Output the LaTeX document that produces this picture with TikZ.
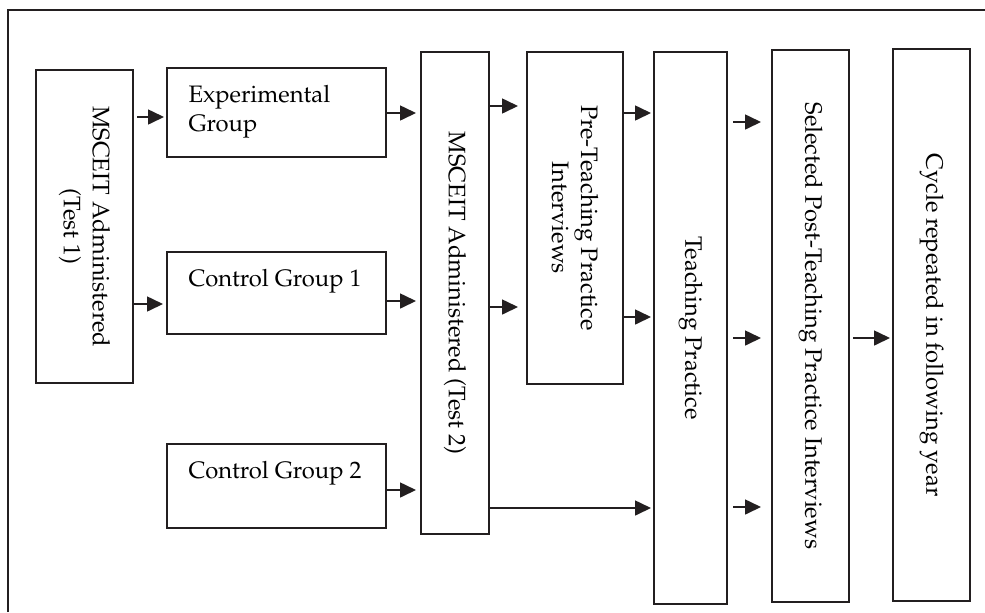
\documentclass[tikz,border=0pt]{standalone}
\usepackage[T1]{fontenc}
\usepackage{mathpazo}
\usetikzlibrary{arrows.meta}
\definecolor{linecolor}{RGB}{35,31,32}

\begin{document}
\begin{tikzpicture}[
    x=0.5pt, y=-0.5pt,
    font=\fontsize{11.9}{14.5}\selectfont,
    stagebox/.style={draw=linecolor, line width=1pt, rotate=-90, align=center, inner sep=2pt},
    grpbox/.style={draw=linecolor, line width=1pt, anchor=north west, minimum width=109.5pt, inner xsep=10.5pt, inner ysep=8.5pt},
    arrow/.style={-{Triangle[length=8pt,width=7.5pt]}, line width=0.8pt, linecolor, shorten >=1pt}
]
    \useasboundingbox (0,0) rectangle (985,612);

    % Frame
    \draw[linecolor, line width=1pt] (8,612) -- (8,10) -- (985,10);

    % Groups
    \node[grpbox] (exp) at (166,67) {\parbox[t][27.5pt][t]{88pt}{Experimental\\Group}};
    \node[grpbox] (cg1) at (166,251) {\parbox[t][24pt][t]{88pt}{Control Group 1}};
    \node[grpbox] (cg2) at (166,443) {\parbox[t][25pt][t]{88pt}{Control Group 2}};

    % Stages (rotated: north is the right side, south the left side)
    \node[stagebox, minimum width=156.5pt, minimum height=48.5pt] (test1) at (84.5,226.5) {MSCEIT Administered\\(Test 1)};
    \node[stagebox, minimum width=241pt, minimum height=34pt] (test2) at (455,293) {MSCEIT Administered (Test 2)};
    \node[stagebox, minimum width=166pt, minimum height=48pt] (pre) at (575,218) {Pre-Teaching Practice\\Interviews};
    \node[stagebox, minimum width=276pt, minimum height=36.5pt] (tp) at (690.5,328) {Teaching Practice};
    \node[stagebox, minimum width=276pt, minimum height=38.5pt] (post) at (810.5,326) {Selected Post-Teaching Practice Interviews};
    \node[stagebox, minimum width=276pt, minimum height=38.5pt] (cycle) at (931.5,325) {Cycle repeated in following year};

    % Arrows
    \draw[arrow, shorten <=1.5pt] (test1.north |- 0,117) -- (exp.west |- 0,117);
    \draw[arrow, shorten >=1.5pt] (test1.north |- 0,304) -- (cg1.west |- 0,304);
    \draw[arrow, shorten >=2pt] (exp.east |- 0,113) -- (test2.south |- 0,113);
    \draw[arrow, shorten >=2pt] (cg1.east |- 0,301) -- (test2.south |- 0,301);
    \draw[arrow, shorten >=2pt] (cg2.east |- 0,490) -- (test2.south |- 0,490);
    \draw[arrow, shorten >=4pt] (test2.north |- 0,106) -- (pre.south |- 0,106);
    \draw[arrow, shorten >=4pt] (test2.north |- 0,307) -- (pre.south |- 0,307);
    \draw[arrow] (test2.north |- 0,508) -- (tp.south |- 0,508);
    \draw[arrow] (pre.north |- 0,113) -- (tp.south |- 0,113);
    \draw[arrow] (pre.north |- 0,317) -- (tp.south |- 0,317);
    \draw[arrow, shorten <=2.5pt, shorten >=5pt] (tp.north |- 0,122) -- (post.south |- 0,122);
    \draw[arrow, shorten <=2.5pt, shorten >=5pt] (tp.north |- 0,338) -- (post.south |- 0,338);
    \draw[arrow, shorten <=2.5pt, shorten >=5pt] (tp.north |- 0,507) -- (post.south |- 0,507);
    \draw[arrow, shorten <=1.5pt] (post.north |- 0,338) -- (cycle.south |- 0,338);

\end{tikzpicture}
\end{document}
